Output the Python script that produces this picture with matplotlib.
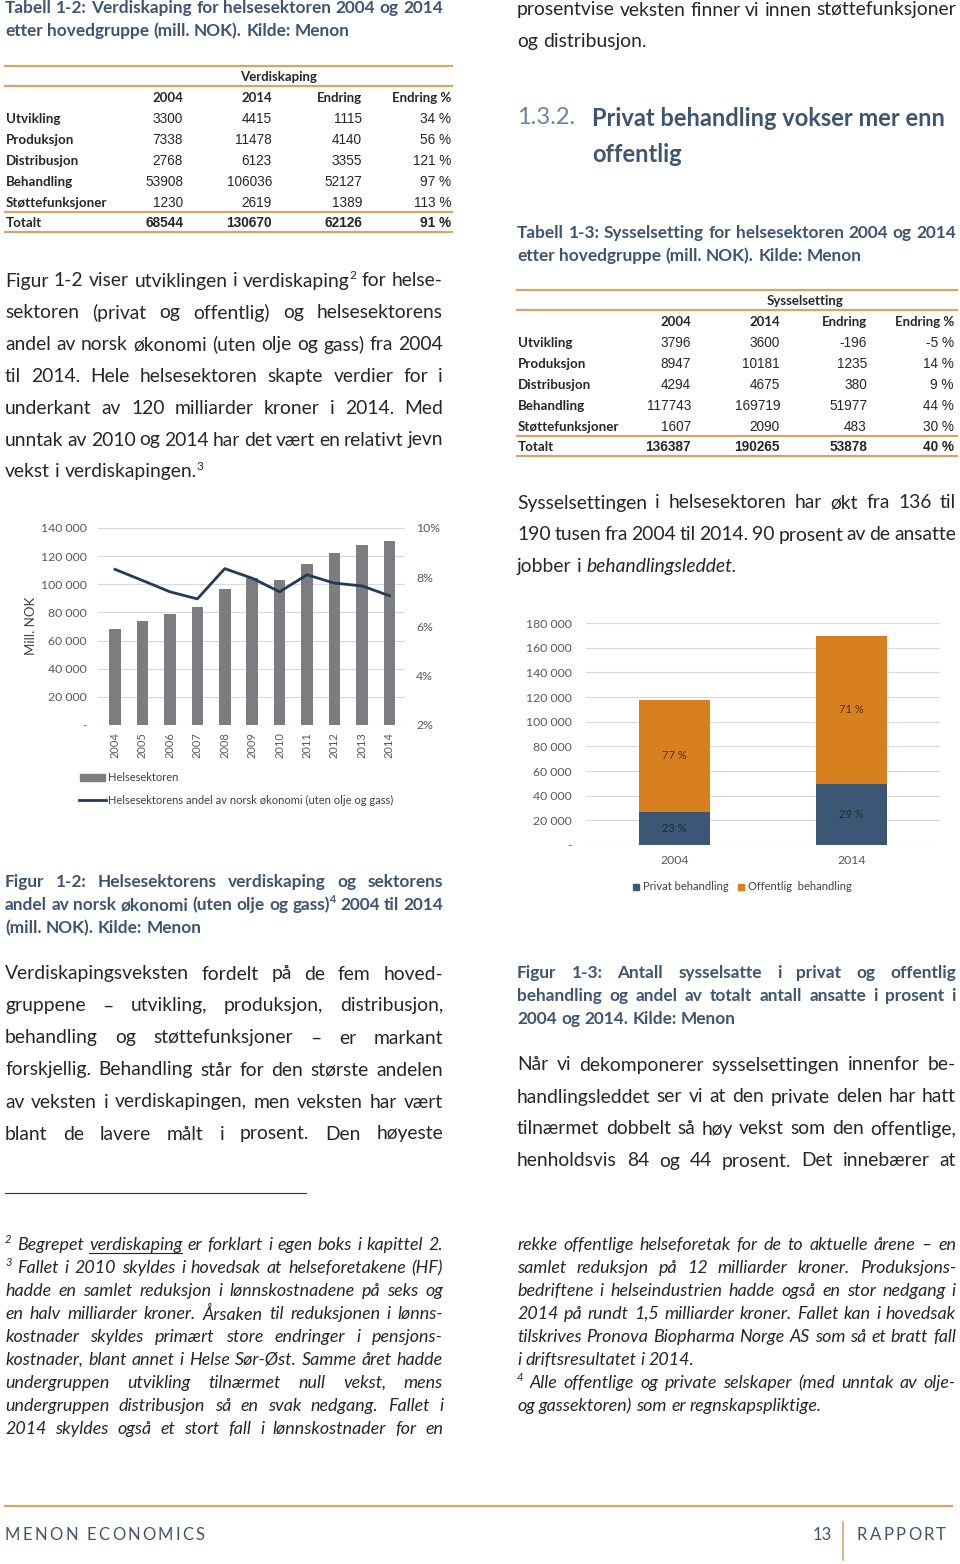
import matplotlib
matplotlib.use('Agg')
import matplotlib.pyplot as plt
from matplotlib.lines import Line2D
from matplotlib.patches import Rectangle

# ---- data -------------------------------------------------------------
years = ['2004', '2005', '2006', '2007', '2008', '2009', '2010', '2011', '2012', '2013', '2014']
verdiskaping = [68544, 73900, 78700, 84100, 96400, 104700, 103000, 114200, 122400, 128100, 130670]
andel_okonomi = [8.32, 7.87, 7.41, 7.12, 8.35, 7.96, 7.41, 8.10, 7.76, 7.65, 7.25]

aar2 = ['2004', '2014']
privat = [27000, 49200]
offentlig = [90743, 120519]
privat_pct = ['23 %', '29 %']
offentlig_pct = ['77 %', '71 %']

rader = ['Utvikling', 'Produksjon', 'Distribusjon', 'Behandling', 'Støttefunksjoner']
kolonner = ['2004', '2014', 'Endring', 'Endring %']
verdi_tab = [['3300', '4415', '1115', '34 %'],
             ['7338', '11478', '4140', '56 %'],
             ['2768', '6123', '3355', '121 %'],
             ['53908', '106036', '52127', '97 %'],
             ['1230', '2619', '1389', '113 %']]
verdi_tot = ['68544', '130670', '62126', '91 %']
syss_tab = [['3796', '3600', '-196', '-5 %'],
            ['8947', '10181', '1235', '14 %'],
            ['4294', '4675', '380', '9 %'],
            ['117743', '169719', '51977', '44 %'],
            ['1607', '2090', '483', '30 %']]
syss_tot = ['136387', '190265', '53878', '40 %']

# ---- page setup ---------------------------------------------------------
W, H = 960, 1564
fig = plt.figure(figsize=(9.6, 15.64), dpi=100)
renderer = fig.canvas.get_renderer()

FAM = 'Lato'
TXT = '#262626'
TITLE = '#3e5571'
GOLD = '#cfa968'
NAVY = '#3c5675'
ORANGE = '#d8801f'
GRAY = '#7b7d80'
LINE = '#243b57'
TICK = '#595959'
BODY_SIZE = 13.9


def fx(x):
    return x / W


def fy(y):
    return 1 - y / H


def put(x, y, s, **kw):
    st = dict(family=FAM, size=BODY_SIZE, color=TXT, va='center', ha='left')
    st.update(kw)
    return fig.text(fx(x), fy(y), s, **st)


def width(t):
    if t is None or not t.get_text():
        return 0
    return t.get_window_extent(renderer).width


def hline(x0, x1, y, color=GOLD, lw=1.6):
    fig.add_artist(Line2D([fx(x0), fx(x1)], [fy(y), fy(y)], color=color, lw=lw))


def line(x0, x1, y, words, justify=True, **kw):
    # words: "text", "word^2" for superscript, or (text, style overrides)
    if isinstance(words, str):
        words = words.split()
    size = kw.get('size', BODY_SIZE)
    items = []
    for w in words:
        s, o = (w if isinstance(w, tuple) else (w, {}))
        o = dict(o)
        ul = o.pop('ul', False)
        sup = None
        if '^' in s:
            s, sup = s.split('^')
        st = dict(kw)
        st.update(o)
        t = put(x0, y, s, **st)
        ts = None
        if sup:
            ss = dict(st)
            ss['size'] = size * 0.62
            ts = put(x0, y - 0.3 * size / 0.72, sup, **ss)
        items.append((t, ts, ul))
    ws = [width(t) + width(ts) for t, ts, _ in items]
    if justify and len(items) > 1:
        gap = (x1 - x0 - sum(ws)) / (len(items) - 1)
    else:
        a = put(0, 0, 'a a', **kw)
        b = put(0, 0, 'aa', **kw)
        gap = width(a) - width(b)
        a.remove()
        b.remove()
    x = x0
    for (t, ts, ul), w in zip(items, ws):
        t.set_x(fx(x))
        if ts is not None:
            ts.set_x(fx(x + width(t)))
        if ul:
            hline(x, x + w, y + 8, color=TXT, lw=0.8)
        x += w + gap


def para(x0, x1, y0, step, lines, last_justified=False, **kw):
    for i, l in enumerate(lines):
        j = last_justified or i < len(lines) - 1
        line(x0, x1, y0 + i * step, l, justify=j, **kw)


def spaced(x, y, s, track, **kw):
    for ch in s:
        t = put(x, y, ch, **kw)
        x += width(t) + track


# ---- left column text ---------------------------------------------------
LX0, LX1 = 5, 443
RX0, RX1 = 517, 956
CAP = dict(size=12.4, weight='bold', color=TITLE)
FN = dict(size=12.9, style='italic')

para(LX0, LX1, 8, 23, ['Tabell 1-2: Verdiskaping for helsesektoren 2004 og 2014',
                       'etter hovedgruppe (mill. NOK). Kilde: Menon'], **CAP)

para(LX0, LX1, 281, 31.8, [
    'Figur 1-2 viser utviklingen i verdiskaping^2 for helse-',
    'sektoren (privat og offentlig) og helsesektorens',
    'andel av norsk økonomi (uten olje og gass) fra 2004',
    'til 2014. Hele helsesektoren skapte verdier for i',
    'underkant av 120 milliarder kroner i 2014. Med',
    'unntak av 2010 og 2014 har det vært en relativt jevn',
    'vekst i verdiskapingen.^3'])

para(LX0, LX1, 882, 23, ['Figur 1-2: Helsesektorens verdiskaping og sektorens',
                         'andel av norsk økonomi (uten olje og gass)^4 2004 til 2014',
                         '(mill. NOK). Kilde: Menon'], **CAP)

para(LX0, LX1, 974, 32, [
    'Verdiskapingsveksten fordelt på de fem hoved-',
    'gruppene – utvikling, produksjon, distribusjon,',
    'behandling og støttefunksjoner – er markant',
    'forskjellig. Behandling står for den største andelen',
    'av veksten i verdiskapingen, men veksten har vært',
    'blant de lavere målt i prosent. Den høyeste'], last_justified=True)

hline(5, 306, 1193, color='#333333', lw=0.8)

line(LX0, LX1, 1245, ['^2', 'Begrepet', ('verdiskaping', {'ul': True}), 'er', 'forklart',
                      'i', 'egen', 'boks', 'i', 'kapittel', '2.'], **FN)
para(LX0, LX1, 1268, 23, [
    '^3 Fallet i 2010 skyldes i hovedsak at helseforetakene (HF)',
    'hadde en samlet reduksjon i lønnskostnadene på seks og',
    'en halv milliarder kroner. Årsaken til reduksjonen i lønns-',
    'kostnader skyldes primært store endringer i pensjons-',
    'kostnader, blant annet i Helse Sør-Øst. Samme året hadde',
    'undergruppen utvikling tilnærmet null vekst, mens',
    'undergruppen distribusjon så en svak nedgang. Fallet i',
    '2014 skyldes også et stort fall i lønnskostnader for en'], last_justified=True, **FN)

# ---- right column text --------------------------------------------------
para(RX0, RX1, 10, 32, ['prosentvise veksten finner vi innen støttefunksjoner',
                        'og distribusjon.'])

put(517, 118, '1.3.2.', size=17, color='#6884a2')
put(592, 118, 'Privat behandling vokser mer enn', size=17, weight='bold', color=TITLE)
put(592, 155, 'offentlig', size=17, weight='bold', color=TITLE)

para(RX0, RX1, 233, 23, ['Tabell 1-3: Sysselsetting for helsesektoren 2004 og 2014',
                         'etter hovedgruppe (mill. NOK). Kilde: Menon'], **CAP)

para(RX0, RX1, 503, 32, ['Sysselsettingen i helsesektoren har økt fra 136 til',
                         '190 tusen fra 2004 til 2014. 90 prosent av de ansatte',
                         ['jobber', 'i', ('behandlingsleddet.', {'style': 'italic'})]])

para(RX0, RX1, 973, 23, ['Figur 1-3: Antall sysselsatte i privat og offentlig',
                         'behandling og andel av totalt antall ansatte i prosent i',
                         '2004 og 2014. Kilde: Menon'], **CAP)

para(RX0, RX1, 1065, 32, [
    'Når vi dekomponerer sysselsettingen innenfor be-',
    'handlingsleddet ser vi at den private delen har hatt',
    'tilnærmet dobbelt så høy vekst som den offentlige,',
    'henholdsvis 84 og 44 prosent. Det innebærer at'], last_justified=True)

para(RX0, RX1, 1245, 23, [
    'rekke offentlige helseforetak for de to aktuelle årene – en',
    'samlet reduksjon på 12 milliarder kroner. Produksjons-',
    'bedriftene i helseindustrien hadde også en stor nedgang i',
    '2014 på rundt 1,5 milliarder kroner. Fallet kan i hovedsak',
    'tilskrives Pronova Biopharma Norge AS som så et bratt fall',
    'i driftsresultatet i 2014.'], **FN)
para(RX0, RX1, 1383, 23, [
    '^4 Alle offentlige og private selskaper (med unntak av olje-',
    'og gassektoren) som er regnskapspliktige.'], **FN)


# ---- tables -------------------------------------------------------------
def table(x0, x1, top, head, head_x, cols_r, data, tot):
    hline(x0, x1, top)
    put(head_x, top + 11, head, size=9.5, weight='bold', ha='center')
    hline(x0, x1, top + 20)
    for c, xr in zip(kolonner, cols_r):
        put(xr, top + 32, c, size=9.5, weight='bold', ha='right')
    for i, (lab, row) in enumerate(zip(rader, data)):
        y = top + 53 + i * 21
        put(x0 + 1, y, lab, size=9.6, weight='bold')
        for v, xr in zip(row, cols_r):
            put(xr, y, v, family='Liberation Sans', size=9.8, ha='right')
    hline(x0, x1, top + 146)
    put(x0 + 1, top + 157, 'Totalt', size=9.6, weight='bold')
    for v, xr in zip(tot, cols_r):
        put(xr, top + 157, v, family='Liberation Sans', size=9.8, weight='bold', ha='right')
    hline(x0, x1, top + 166)


table(5, 452, 66, 'Verdiskaping', 279, [183, 272, 362, 451], verdi_tab, verdi_tot)
table(517, 957, 290, 'Sysselsetting', 805, [691, 780, 867, 954], syss_tab, syss_tot)


# ---- figure 1-2 ---------------------------------------------------------
def axes_px(left, top, right, bottom):
    return fig.add_axes([fx(left), fy(bottom), (right - left) / W, (bottom - top) / H])


ax = axes_px(98, 528, 405, 725)
x = range(len(years))
ax.bar(x, verdiskaping, width=0.42, color=GRAY, zorder=2)
ax.set_ylim(0, 140000)
ax.set_xlim(-0.62, 10.57)
ax.set_yticks(range(0, 140001, 20000))
ax.set_yticklabels(['-'] + [f'{v // 1000} 000' for v in range(20000, 140001, 20000)])
ax.set_xticks(list(x))
ax.set_xticklabels(years, rotation=90)
ax.yaxis.grid(True, color='#d9d9d9', lw=0.8)
ax.set_axisbelow(True)
for s in ax.spines.values():
    s.set_visible(False)
ax.tick_params(axis='y', length=0, pad=8, labelsize=8.8, labelcolor=TICK)
ax.tick_params(axis='x', length=0, pad=5, labelsize=8, labelcolor=TICK)
for t in ax.get_xticklabels() + ax.get_yticklabels():
    t.set_family(FAM)

ax2 = ax.twinx()
ax2.plot(list(x), andel_okonomi, color=LINE, lw=2)
ax2.set_ylim(2, 10)
ax2.set_yticks([2, 4, 6, 8, 10])
ax2.set_yticklabels([f'{v}%' for v in [2, 4, 6, 8, 10]])
for s in ax2.spines.values():
    s.set_visible(False)
ax2.tick_params(axis='y', length=0, pad=8, labelsize=8.8, labelcolor=TICK)
for t in ax2.get_yticklabels():
    t.set_family(FAM)

put(31, 626, 'Mill. NOK', size=9.5, color='#404040', rotation=90, ha='center')
fig.add_artist(Rectangle((fx(80), fy(781)), 25 / W, 7 / H, color=GRAY))
put(108, 777.5, 'Helsesektoren', size=8, color='#404040')
fig.add_artist(Line2D([fx(79), fx(106)], [fy(800), fy(800)], color=LINE, lw=2))
put(108, 800, 'Helsesektorens andel av norsk økonomi (uten olje og gass)', size=8, color='#404040')

# ---- figure 1-3 ---------------------------------------------------------
bx = axes_px(586, 623, 940, 845)
xs = range(len(aar2))
bx.bar(xs, privat, width=0.4, color=NAVY, zorder=2)
bx.bar(xs, offentlig, width=0.4, bottom=privat, color=ORANGE, zorder=2)
for i in xs:
    bx.text(i, privat[i] / 2, privat_pct[i], ha='center', va='center',
            family=FAM, size=8, color='#1c2b3d')
    bx.text(i, privat[i] + offentlig[i] / 2, offentlig_pct[i], ha='center', va='center',
            family=FAM, size=8, color='#5a2a10')
bx.set_ylim(0, 180000)
bx.set_xlim(-0.5, 1.5)
bx.set_yticks(range(0, 180001, 20000))
bx.set_yticklabels(['-'] + [f'{v // 1000} 000' for v in range(20000, 180001, 20000)])
bx.set_xticks(list(xs))
bx.set_xticklabels(aar2)
bx.yaxis.grid(True, color='#d9d9d9', lw=0.8)
bx.set_axisbelow(True)
for s in bx.spines.values():
    s.set_visible(False)
bx.tick_params(axis='y', length=0, pad=10, labelsize=8.8, labelcolor=TICK)
bx.tick_params(axis='x', length=0, pad=7, labelsize=8.8, labelcolor=TICK)
for t in bx.get_xticklabels() + bx.get_yticklabels():
    t.set_family(FAM)

fig.add_artist(Rectangle((fx(633), fy(890)), 6 / W, 6 / H, color=NAVY))
put(643, 887, 'Privat behandling', size=8, color='#404040')
fig.add_artist(Rectangle((fx(738), fy(890)), 6 / W, 6 / H, color=ORANGE))
put(748, 887, 'Offentlig  behandling', size=8, color='#404040')

# ---- footer -------------------------------------------------------------
hline(5, 952, 1506, lw=1.6)
spaced(5, 1535, 'MENON ECONOMICS', 2.3, size=12, color='#44546a')
put(832, 1535, '13', size=12, color='#44546a', ha='right')
fig.add_artist(Line2D([fx(843), fx(843)], [fy(1522), fy(1560)], color=GOLD, lw=1.2))
spaced(857, 1535, 'RAPPORT', 2.3, size=12, color='#44546a')

fig.savefig('out.png', dpi=100)
